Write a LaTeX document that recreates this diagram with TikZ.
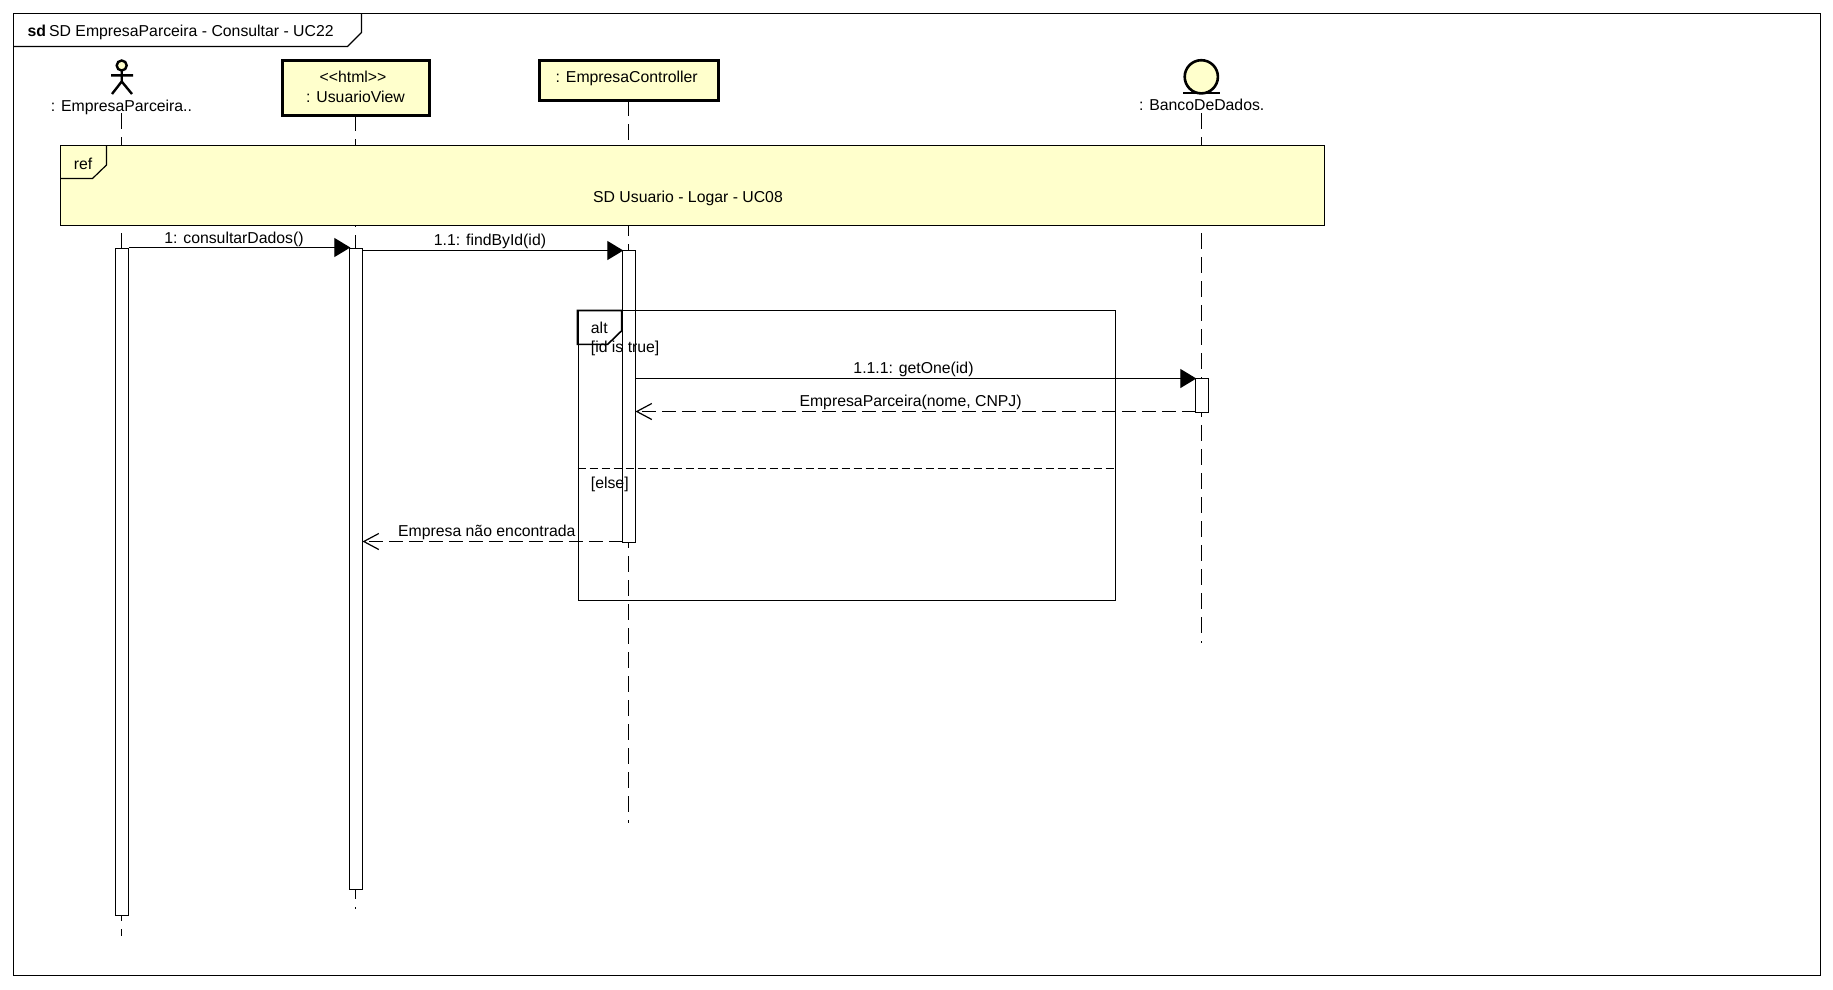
\documentclass[tikz,border=0pt]{standalone}
\usepackage{fontspec}
\setmainfont{Liberation Sans}
\usetikzlibrary{arrows.meta}
\definecolor{umlyellow}{HTML}{FFFFCC}
\tikzset{
  thinl/.style={draw=black,line width=1.2pt},
  lifeline/.style={draw=black,line width=1.3pt,dash pattern=on 16pt off 8pt},
  headbox/.style={draw=black,line width=3pt,fill=umlyellow,rectangle,inner sep=0pt,outer sep=0pt},
  txt/.style={font=\fontsize{15.8pt}{15.8pt}\selectfont,inner sep=0pt,text height=10pt,text depth=3pt,anchor=center,yshift=-1.2pt},
  activation/.style={draw=black,line width=1.2pt,fill=white,rectangle,inner sep=0pt,outer sep=0pt,minimum width=13pt},
  syncmsg/.style={draw=black,line width=1.3pt,shorten >=-0.8pt,-{Triangle[length=16pt,width=19pt,fill=black]}},
  retmsg/.style={draw=black,line width=1.3pt,dash pattern=on 13.3pt off 6.7pt,-{Straight Barb[length=15pt,width=16pt,line width=1.2pt]}},
  actorline/.style={draw=black,line width=2.4pt},
}
\begin{document}
\begin{tikzpicture}[x=1pt,y=-1pt]
\useasboundingbox (0,0) rectangle (1833,989);
\fill[white] (0,0) rectangle (1833,989);
% outer frame
\draw[thinl] (13.5,13.5) rectangle (1820.5,975.5);
\draw[thinl] (13.5,46.5) -- (347.5,46.5) -- (361.5,32.5) -- (361.5,13.5);
\node[txt,anchor=west] (title) at (27.5,32) {\textbf{sd}\hspace{3pt}SD EmpresaParceira - Consultar - UC22};
% lifeline heads
\node[txt] (actorlabel) at (121.5,107) {: EmpresaParceira..};
\node[txt] (banklabel) at (1201.7,106) {: BancoDeDados.};
\node[headbox,minimum width=146.5pt,minimum height=54.5pt] (view) at (356,87.8) {};
\node[txt] (viewstereo) at (353,78) {<{}<html>{}>};
\node[txt] (viewname) at (355.5,98) {: UsuarioView};
\node[headbox,minimum width=179pt,minimum height=39.5pt] (ctrl) at (629,80.4) {};
\node[txt] (ctrlname) at (626.7,78) {: EmpresaController};
% lifeline ends
\coordinate (actortop) at (121.5,113);
\coordinate (actorend) at (121.5,936);
\coordinate (viewend) at (355.5,909);
\coordinate (ctrlend) at (628.5,823);
\coordinate (banktop) at (1201.5,113);
\coordinate (bankend) at (1201.5,643);
\draw[lifeline] (actortop) -- (actorend);
\draw[lifeline] (view.south -| viewend) -- (viewend);
\draw[lifeline] (ctrl.south -| ctrlend) -- (ctrlend);
\draw[lifeline] (banktop) -- (bankend);
% actor
\draw[actorline,fill=umlyellow] (121.7,65.5) circle (5pt);
\draw[actorline] (121.7,71) -- (121.7,82) (111,75.3) -- (133,75.3) (112,94) -- (121.7,81.5) -- (132,94);
% entity
\draw[draw=black,line width=2.6pt,fill=umlyellow] (1201.3,76.8) circle (16.6pt);
\draw[draw=black,line width=2.2pt] (1183,93.3) -- (1220,93.3);
% activations
\node[activation,minimum height=667pt] (act1) at (122,581.8) {};
\node[activation,minimum height=641pt] (act2) at (356,568.8) {};
\node[activation,minimum height=292pt] (act3) at (629,396.5) {};
\node[activation,minimum height=34pt] (act4) at (1202,395.5) {};
% ref
\draw[thinl,fill=umlyellow] (60.5,145.5) rectangle (1324.5,225.5);
\draw[thinl] (60.5,178.5) -- (92.5,178.5) -- (106.5,165) -- (106.5,145.5);
\node[txt] (reflabel) at (83,164.5) {ref};
\node[txt] (reftext) at (688,197.5) {SD Usuario - Logar - UC08};
% messages
\coordinate (m1a) at (act1.east |- 0,247.5);
\coordinate (m1b) at (act2.west |- 0,247.5);
\coordinate (m2a) at (act2.east |- 0,250.5);
\coordinate (m2b) at (act3.west |- 0,250.5);
\coordinate (m3a) at (act3.east |- 0,378.5);
\coordinate (m3b) at (act4.west |- 0,378.5);
\coordinate (m4a) at (act4.west |- 0,411.5);
\coordinate (m4b) at (act3.east |- 0,411.5);
\coordinate (m5a) at (act3.west |- 0,541.5);
\coordinate (m5b) at (act2.east |- 0,541.5);
\draw[syncmsg] (m1a) -- (m1b);
\draw[syncmsg] (m2a) -- (m2b);
\draw[syncmsg] (m3a) -- (m3b);
\draw[retmsg] (m4a) -- (m4b);
\draw[retmsg] (m5a) -- (m5b);
\node[txt] (m1t) at (234,238.5) {1: consultarDados()};
\node[txt] (m2t) at (490,241) {1.1: findById(id)};
\node[txt] (m3t) at (913.5,369) {1.1.1: getOne(id)};
\node[txt] (m4t) at (910.6,402) {EmpresaParceira(nome, CNPJ)};
\node[txt] (m5t) at (486.8,532) {Empresa não encontrada};
% alt
\draw[thinl] (578.5,310.5) rectangle (1115.5,600.5);
\draw[thinl,line width=1.6pt] (607.7,344.3) -- (577.5,344.3) -- (577.5,310.5) -- (621.7,310.5) -- (621.7,330.7) -- cycle;
\draw[draw=black,line width=1.2pt,dash pattern=on 8pt off 4pt] (577.5,468.5) -- (1115.5,468.5);
\node[txt] (altlabel) at (599.3,328.5) {alt};
\node[txt,anchor=west] (g1) at (590.7,348) {[id is true]};
\node[txt,anchor=west] (g2) at (590.7,483.5) {[else]};
\end{tikzpicture}
\end{document}
